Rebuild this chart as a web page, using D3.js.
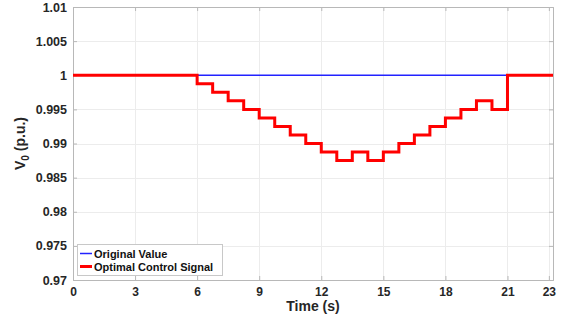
<!DOCTYPE html>
<html>
<head>
<meta charset="utf-8">
<script src="https://cdn.jsdelivr.net/npm/d3@7"></script>
<style>
  body { margin: 0; background: #fff; }
  svg { font-family: "Liberation Sans", Arial, sans-serif; }
  .tick text { font-weight: bold; fill: #262626; }
</style>
</head>
<body>
<svg width="569" height="324"></svg>
<script>
// data
var xTicks = [0, 3, 6, 9, 12, 15, 18, 21, 23];
var yTicks = [0.97, 0.975, 0.98, 0.985, 0.99, 0.995, 1, 1.005, 1.01];
var yTickLabels = ["0.97", "0.975", "0.98", "0.985", "0.99", "0.995", "1", "1.005", "1.01"];

var originalTime = [0, 23.2];
var originalValue = [1, 1];

// control signal: value holds from each time until the next one
var controlTime = [0, 6, 6.75, 7.5, 8.25, 9, 9.75, 10.5, 11.25, 12, 12.75, 13.5, 14.25,
  15, 15.75, 16.5, 17.25, 18, 18.75, 19.5, 20.25, 21, 23.2];
var controlValue = [1, 0.99875, 0.9975, 0.99625, 0.995, 0.99375, 0.9925, 0.99125, 0.99,
  0.98875, 0.9875, 0.98875, 0.9875, 0.98875, 0.99, 0.99125, 0.9925, 0.99375, 0.995,
  0.99625, 0.995, 1, 1];

var seriesNames = ["Original Value", "Optimal Control Signal"];

(function () {
  var svg = d3.select("svg"),
    left = 73, right = 553, top = 7, bottom = 280;

  var x = d3.scaleLinear().domain([0, 23.2]).range([left, right]);
  var y = d3.scaleLinear().domain([0.97, 1.01]).range([bottom, top]);

  // grid
  var grid = svg.append("g").attr("stroke", "#ececec").attr("stroke-width", 1);
  grid.selectAll("line.gx")
    .data(xTicks)
    .enter().append("line")
    .attr("x1", function (d) { return Math.round(x(d)) + .5; })
    .attr("x2", function (d) { return Math.round(x(d)) + .5; })
    .attr("y1", top).attr("y2", bottom);
  grid.selectAll("line.gy")
    .data(yTicks)
    .enter().append("line")
    .attr("y1", function (d) { return Math.round(y(d)) + .5; })
    .attr("y2", function (d) { return Math.round(y(d)) + .5; })
    .attr("x1", left).attr("x2", right);

  // axes, ticks pointing inward
  var xAxis = d3.axisBottom(x).tickValues(xTicks).tickSize(-4).tickPadding(7);
  var yAxis = d3.axisLeft(y).tickValues(yTicks).tickSize(-4).tickPadding(6)
    .tickFormat(function (d, i) { return yTickLabels[i]; });

  var gx = svg.append("g").attr("transform", "translate(0," + bottom + ")").call(xAxis);
  var gy = svg.append("g").attr("transform", "translate(" + left + ",0)").call(yAxis);
  var gx2 = svg.append("g").attr("transform", "translate(0," + top + ")")
    .call(d3.axisTop(x).tickValues(xTicks).tickSize(-4).tickFormat(""));
  var gy2 = svg.append("g").attr("transform", "translate(" + right + ",0)")
    .call(d3.axisRight(y).tickValues(yTicks).tickSize(-4).tickFormat(""));

  [gx, gy, gx2, gy2].forEach(function (g) {
    g.select(".domain").attr("stroke", "#b8b8b8");
    g.selectAll(".tick line").attr("stroke", "#b8b8b8");
  });
  gx.selectAll(".tick text").attr("font-size", 12);
  gy.selectAll(".tick text").attr("font-size", 12.5);

  // lines
  var lineFn = d3.line()
    .x(function (d) { return x(d[0]); })
    .y(function (d) { return y(d[1]); });

  svg.append("path")
    .datum(d3.zip(originalTime, originalValue))
    .attr("fill", "none")
    .attr("stroke", "#2222ff")
    .attr("stroke-width", 1.5)
    .attr("d", lineFn);

  svg.append("path")
    .datum(d3.zip(controlTime, controlValue))
    .attr("fill", "none")
    .attr("stroke", "#ff0000")
    .attr("stroke-width", 3)
    .attr("d", lineFn.curve(d3.curveStepAfter));

  // axis titles
  svg.append("text")
    .attr("x", (left + right) / 2)
    .attr("y", 311)
    .attr("text-anchor", "middle")
    .attr("font-weight", "bold")
    .attr("font-size", 14)
    .attr("fill", "#262626")
    .text("Time (s)");

  var yl = svg.append("text")
    .attr("transform", "translate(25," + (top + bottom) / 2 + ") rotate(-90)")
    .attr("text-anchor", "middle")
    .attr("font-weight", "bold")
    .attr("font-size", 14)
    .attr("fill", "#262626");
  yl.append("tspan").text("V");
  yl.append("tspan").attr("font-size", 10).attr("dy", 4).text("0");
  yl.append("tspan").attr("dy", -4).text(" (p.u.)");

  // legend
  var legend = svg.append("g").attr("transform", "translate(77,244)");
  legend.append("rect")
    .attr("x", 0.5).attr("y", 0.5)
    .attr("width", 145).attr("height", 31)
    .attr("fill", "#fff")
    .attr("stroke", "#c8c8c8");
  var colors = ["#2222ff", "#ff0000"], widths = [1.5, 3];
  seriesNames.forEach(function (name, i) {
    var yy = 9.5 + i * 13;
    legend.append("line")
      .attr("x1", 3).attr("x2", 15)
      .attr("y1", yy).attr("y2", yy)
      .attr("stroke", colors[i])
      .attr("stroke-width", widths[i]);
    legend.append("text")
      .attr("x", 17).attr("y", yy + 4)
      .attr("font-weight", "bold")
      .attr("font-size", 11)
      .attr("fill", "#111")
      .text(name);
  });
})();
</script>
</body>
</html>
